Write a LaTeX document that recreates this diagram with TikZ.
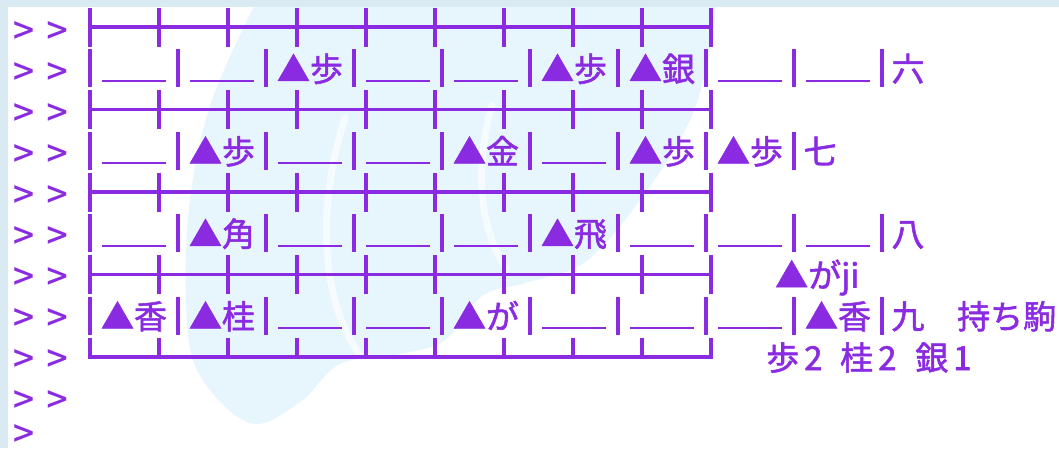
\documentclass[tikz,border=0pt]{standalone}
\usepackage{fontspec}
\setmainfont{Noto Sans CJK JP}
\newfontfamily\pf[FakeBold=1.6]{Noto Sans CJK JP}
\newfontfamily\gf[FakeBold=0.5]{Noto Sans CJK JP}
\definecolor{pv}{RGB}{138,43,226}
\definecolor{blobc}{RGB}{231,245,253}
\definecolor{edgec}{RGB}{218,234,243}
\begin{document}
\begin{tikzpicture}[x=1pt,y=-1pt,
  txt/.style={inner sep=0pt, text=pv, font=\pf\fontsize{33}{40}\selectfont, anchor=base},
  txtw/.style={txt, anchor=base west},
  prompt/.style={inner sep=0pt, text=pv, font=\gf\fontsize{38}{40}\selectfont, anchor=base},
  gridline/.style={draw=pv, line width=3.2pt},
  barline/.style={draw=pv, line width=3.2pt},
  uline/.style={draw=pv, line width=2.2pt}]
\useasboundingbox (0,0) rectangle (1059,448);
\fill[white] (0,0) rectangle (1059,448);
% pale blob in the background
\begin{scope}
\clip (0,0) rectangle (1059,448);
\fill[blobc] plot[smooth, tension=0.6] coordinates {
  (262,-10) (212,100) (190,200) (186,300) (198,372) (250,423) (300,402)
  (340,364) (400,354) (445,340) (482,296) (525,283) (585,262) (640,200)
  (690,120) (712,40) (716,-10)} -- cycle;
\draw[white, line width=7pt, line cap=round, opacity=0.6]
  (345,118) .. controls (318,200) and (318,300) .. (362,358);
\draw[white, line width=7pt, line cap=round, opacity=0.6]
  (492,105) .. controls (474,170) and (480,230) .. (506,268);
\end{scope}
% textured border strips
\fill[edgec] (0,0) rectangle (1059,7);
\fill[edgec] (0,0) rectangle (8,448);
% prompt markers
\foreach \i in {0,...,9} {
  \node[prompt] (ga\i) at (23.5,{44+41*\i}) {>};
  \node[prompt] (gb\i) at (57,{44+41*\i}) {>};
}
\node[prompt] (ga10) at (23.5,447) {>};
% grid lines (full crosses)
\foreach \y in {27,109.5,192,274.5} {
  \draw[gridline] (88.6,\y) -- (712.4,\y);
  \foreach \i in {0,...,9}
    \draw[gridline] ({90+69*\i},{\y-19.5}) -- ({90+69*\i},{\y+19.5});
}
% bottom line
\draw[gridline] (88.4,357) -- (712.6,357);
\foreach \i in {0,...,9}
  \draw[gridline] ({90+69*\i},{357-19.5}) -- ({90+69*\i},357);
% row 6 (y=68.25)
\foreach \k in {0,...,9} \draw[barline] ({90+88*\k},49.25) -- ({90+88*\k},87.25);
\foreach \k in {0,1,3,4,7,8} \draw[uline] ({102+88*\k},80.75) -- ({166+88*\k},80.75);
\foreach \k/\p in {2/歩,5/歩,6/銀} \node[txt] (a\k) at ({134+88*\k},81.25) {▲\p};
\node[txt] (rank6) at (908,81.25) {六};
% row 7 (y=150.75)
\foreach \k in {0,...,8} \draw[barline] ({90+88*\k},131.75) -- ({90+88*\k},169.75);
\foreach \k in {0,2,3,5} \draw[uline] ({102+88*\k},163.25) -- ({166+88*\k},163.25);
\foreach \k/\p in {1/歩,4/金,6/歩,7/歩} \node[txt] (b\k) at ({134+88*\k},163.75) {▲\p};
\node[txt] (rank7) at (820,163.75) {七};
% row 8 (y=233.25)
\foreach \k in {0,...,9} \draw[barline] ({90+88*\k},214.25) -- ({90+88*\k},252.25);
\foreach \k in {0,2,3,4,6,7,8} \draw[uline] ({102+88*\k},245.75) -- ({166+88*\k},245.75);
\foreach \k/\p in {1/角,5/飛} \node[txt] (c\k) at ({134+88*\k},246.25) {▲\p};
\node[txt] (rank8) at (908,246.25) {八};
\node[txtw] (note) at (775,287.5) {▲がji};
% row 9 (y=315.75)
\foreach \k in {0,...,9} \draw[barline] ({90+88*\k},296.75) -- ({90+88*\k},334.75);
\foreach \k in {2,3,5,6,7} \draw[uline] ({102+88*\k},328.25) -- ({166+88*\k},328.25);
\foreach \k/\p in {0/香,1/桂,4/が,8/香} \node[txt] (d\k) at ({134+88*\k},328.75) {▲\p};
\node[txt] (rank9) at (908,328.75) {九};
\node[txtw] (mochi) at (957,328.75) {持ち駒};
% pieces in hand
\node[txtw] (h1) at (766,370) {歩\kern5pt 2};
\node[txtw] (h2) at (840,370) {桂\kern5pt 2};
\node[txtw] (h3) at (915,370) {銀\kern5pt 1};
\end{tikzpicture}
\end{document}
